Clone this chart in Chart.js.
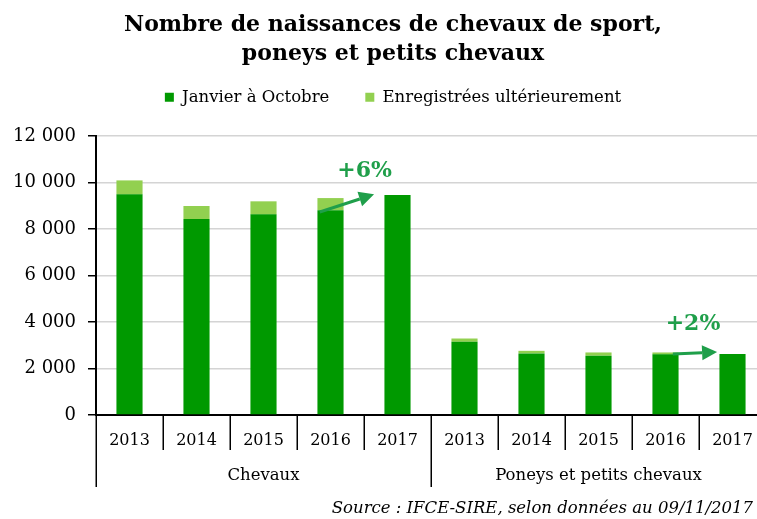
<!DOCTYPE html>
<html lang="fr">
<head>
<meta charset="utf-8">
<title>Naissances de chevaux</title>
<script src="https://cdn.jsdelivr.net/npm/chart.js@4.4.1/dist/chart.umd.min.js"></script>
<style>
  html, body { margin: 0; padding: 0; background: #fff; overflow: hidden; }
  #wrap { position: absolute; left: 0; top: 0; width: 776px; height: 519px; }
</style>
</head>
<body>
<div id="wrap"><canvas id="graphique" width="776" height="519"></canvas></div>
<script>
// Données
const annees = ["2013", "2014", "2015", "2016", "2017", "2013", "2014", "2015", "2016", "2017"];
const groupes = ["Chevaux", "Poneys et petits chevaux"];
const taillesGroupes = [5, 5];
const janvierOctobre = [9490, 8430, 8630, 8810, 9460, 3150, 2650, 2550, 2610, 2620];
const ulterieurement = [600, 560, 560, 520, 0, 140, 110, 140, 80, 0];
const ticksY = ["0", "2 000", "4 000", "6 000", "8 000", "10 000", "12 000"];
const source = "Source : IFCE-SIRE, selon données au 09/11/2017";

// Flèches d'évolution (index de catégorie, valeur)
const evolTextes = ["+6%", "+2%"];
const evolTexte = [[3.51, 10480], [8.41, 3920]];
const evolDepart = [[2.84, 8730], [8.11, 2620]];
const evolArrivee = [[3.65, 9490], [8.77, 2706]];

const VERT_FONCE = "#009900";
const VERT_CLAIR = "#92d050";
const VERT_FLECHE = "#1f9f4a";

Chart.defaults.font.family = "'DejaVu Serif', serif";
Chart.defaults.color = "#000";

const decorations = {
  id: "decorations",
  afterDraw(chart) {
    const { ctx, scales: { x, y } } = chart;
    const demi = (x.getPixelForValue(1) - x.getPixelForValue(0)) / 2;
    const base = y.getPixelForValue(0);
    ctx.save();

    // séparateurs des années et des groupes
    const bornes = [0];
    taillesGroupes.forEach(t => bornes.push(bornes[bornes.length - 1] + t));
    ctx.strokeStyle = "#000";
    ctx.lineWidth = 1.5;
    for (let i = 0; i <= annees.length; i++) {
      const px = Math.round(x.getPixelForValue(i) - demi) + 0.25;
      const long = bornes.includes(i);
      ctx.beginPath();
      ctx.moveTo(px, base);
      ctx.lineTo(px, base + (long ? 72 : 35));
      ctx.stroke();
    }

    // noms des groupes
    ctx.fillStyle = "#000";
    ctx.font = "16.5px 'DejaVu Serif'";
    ctx.textAlign = "center";
    ctx.textBaseline = "middle";
    groupes.forEach((g, k) => {
      const cx = (x.getPixelForValue(bornes[k]) + x.getPixelForValue(bornes[k + 1] - 1)) / 2;
      ctx.fillText(g, cx, base + 61);
    });

    // source
    ctx.font = "italic 16.5px 'DejaVu Serif'";
    ctx.textAlign = "right";
    ctx.fillText(source, 753, 509);

    // flèches
    ctx.strokeStyle = VERT_FLECHE;
    ctx.fillStyle = VERT_FLECHE;
    ctx.lineWidth = 3;
    evolDepart.forEach((d, k) => {
      const x0 = x.getPixelForValue(d[0]), y0 = y.getPixelForValue(d[1]);
      const x1 = x.getPixelForValue(evolArrivee[k][0]), y1 = y.getPixelForValue(evolArrivee[k][1]);
      const ang = Math.atan2(y1 - y0, x1 - x0);
      const tete = 15, larg = 7.5;
      const bx = x1 - tete * Math.cos(ang), by = y1 - tete * Math.sin(ang);
      ctx.beginPath();
      ctx.moveTo(x0, y0);
      ctx.lineTo(bx, by);
      ctx.stroke();
      ctx.beginPath();
      ctx.moveTo(x1, y1);
      ctx.lineTo(bx + larg * Math.sin(ang), by - larg * Math.cos(ang));
      ctx.lineTo(bx - larg * Math.sin(ang), by + larg * Math.cos(ang));
      ctx.closePath();
      ctx.fill();
    });
    ctx.font = "bold 22px 'DejaVu Serif'";
    ctx.textAlign = "center";
    evolTextes.forEach((t, k) => {
      ctx.fillText(t, x.getPixelForValue(evolTexte[k][0]), y.getPixelForValue(evolTexte[k][1]));
    });
    ctx.restore();
  }
};

new Chart(document.getElementById("graphique"), {
  type: "bar",
  data: {
    labels: annees,
    datasets: [
      {
        label: "Janvier à Octobre",
        data: janvierOctobre,
        backgroundColor: VERT_FONCE,
        barPercentage: 0.39,
        categoryPercentage: 1
      },
      {
        label: "Enregistrées ultérieurement",
        data: ulterieurement,
        backgroundColor: VERT_CLAIR,
        barPercentage: 0.39,
        categoryPercentage: 1
      }
    ]
  },
  options: {
    responsive: false,
    animation: false,
    layout: { padding: { left: 10, right: 0, top: 0, bottom: 0 } },
    plugins: {
      title: {
        display: true,
        text: ["Nombre de naissances de chevaux de sport,", "poneys et petits chevaux"],
        font: { size: 22, weight: "bold", lineHeight: 1.318 },
        color: "#000",
        padding: { top: 11, bottom: -16 }
      },
      subtitle: {
        display: true,
        text: "",
        weight: 500,
        font: { size: 10, lineHeight: 2.05 },
        padding: 0
      },
      legend: {
        labels: {
          boxWidth: 9,
          boxHeight: 9,
          padding: 36,
          font: { size: 16.5 },
          color: "#000"
        }
      },
      tooltip: { enabled: false }
    },
    scales: {
      x: {
        stacked: true,
        grid: { display: false, drawTicks: false },
        border: { display: true, color: "#000", width: 2 },
        ticks: { font: { size: 16 }, padding: 16, maxRotation: 0, autoSkip: false, color: "#000" },
        afterFit(scale) { scale.height = 104; }
      },
      y: {
        stacked: true,
        min: 0,
        max: 12000,
        ticks: {
          stepSize: 2000,
          padding: 12,
          font: { size: 18 },
          color: "#000",
          callback: (v, i) => ticksY[i]
        },
        grid: { color: "#d4d4d4", lineWidth: 1.5, tickColor: "#000", tickLength: 8, tickWidth: 1.5 },
        border: { display: true, color: "#000", width: 2 },
        afterFit(scale) { scale.width = 86; }
      },
      marge: {
        type: "linear",
        position: "right",
        display: true,
        grid: { display: false },
        border: { display: false },
        ticks: { display: false },
        afterFit(scale) { scale.width = 10; }
      }
    }
  },
  plugins: [decorations]
});
</script>
</body>
</html>
